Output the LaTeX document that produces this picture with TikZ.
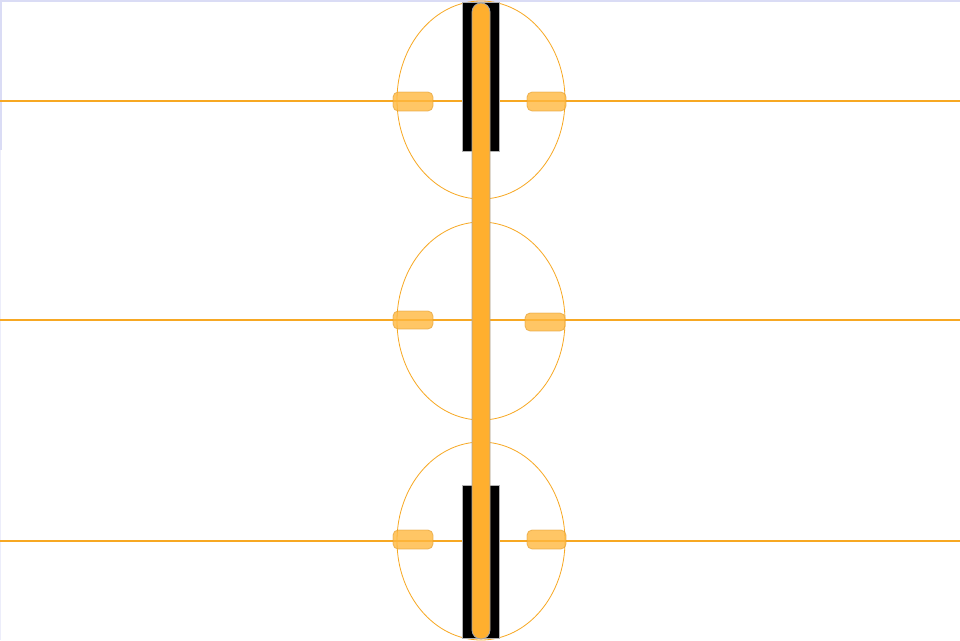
\documentclass[tikz,border=0pt]{standalone}
\begin{document}
\begin{tikzpicture}[x=1pt,y=-1pt,
  hline/.style={draw=orangeL, line width=2pt},
  ring/.style={draw=orangeL, line width=0.8pt},
  pill/.style={fill=pillF, fill opacity=0.8, draw=pillD, draw opacity=0.6, line width=0.8pt, rounded corners=5pt},
  blackbar/.style={fill=black, draw=gray!60, line width=0.6pt},
  rod/.style={fill=rodF, draw=gray!70, line width=0.8pt, rounded corners=9pt}
]
\definecolor{orangeL}{HTML}{F7A823}
\definecolor{pillF}{HTML}{FFB83F}
\definecolor{pillD}{HTML}{E09A2A}
\definecolor{rodF}{HTML}{FFAF2E}
\definecolor{frameC}{HTML}{DADCF5}
\useasboundingbox (0,0) rectangle (960,640);
\fill[white] (0,0) rectangle (960,640);
% frame
\draw[frameC, line width=1.5pt] (0,0.75) -- (960,0.75);
\draw[frameC, line width=2pt] (1,0) -- (1,150);
\draw[frameC!50, line width=1pt] (0.5,150) -- (0.5,640);
% horizontal lines
\foreach \y in {101,320,541} \draw[hline] (0,\y) -- (960,\y);
% ellipses
\foreach \y in {100,321,541} \draw[ring] (481,\y) ellipse [x radius=84, y radius=99];
% black bars
\draw[blackbar] (462,2) rectangle (499,151);
\draw[blackbar] (462,485) rectangle (499,638);
% rod
\draw[rod] (472,3) rectangle (490,639);
% pills
\draw[pill] (393,92) rectangle (433,111);
\draw[pill] (527,92) rectangle (566,111);
\draw[pill] (393,311) rectangle (433,329);
\draw[pill] (525,313) rectangle (565,331);
\draw[pill] (393,530) rectangle (433,549);
\draw[pill] (527,530) rectangle (566,549);
\end{tikzpicture}
\end{document}
